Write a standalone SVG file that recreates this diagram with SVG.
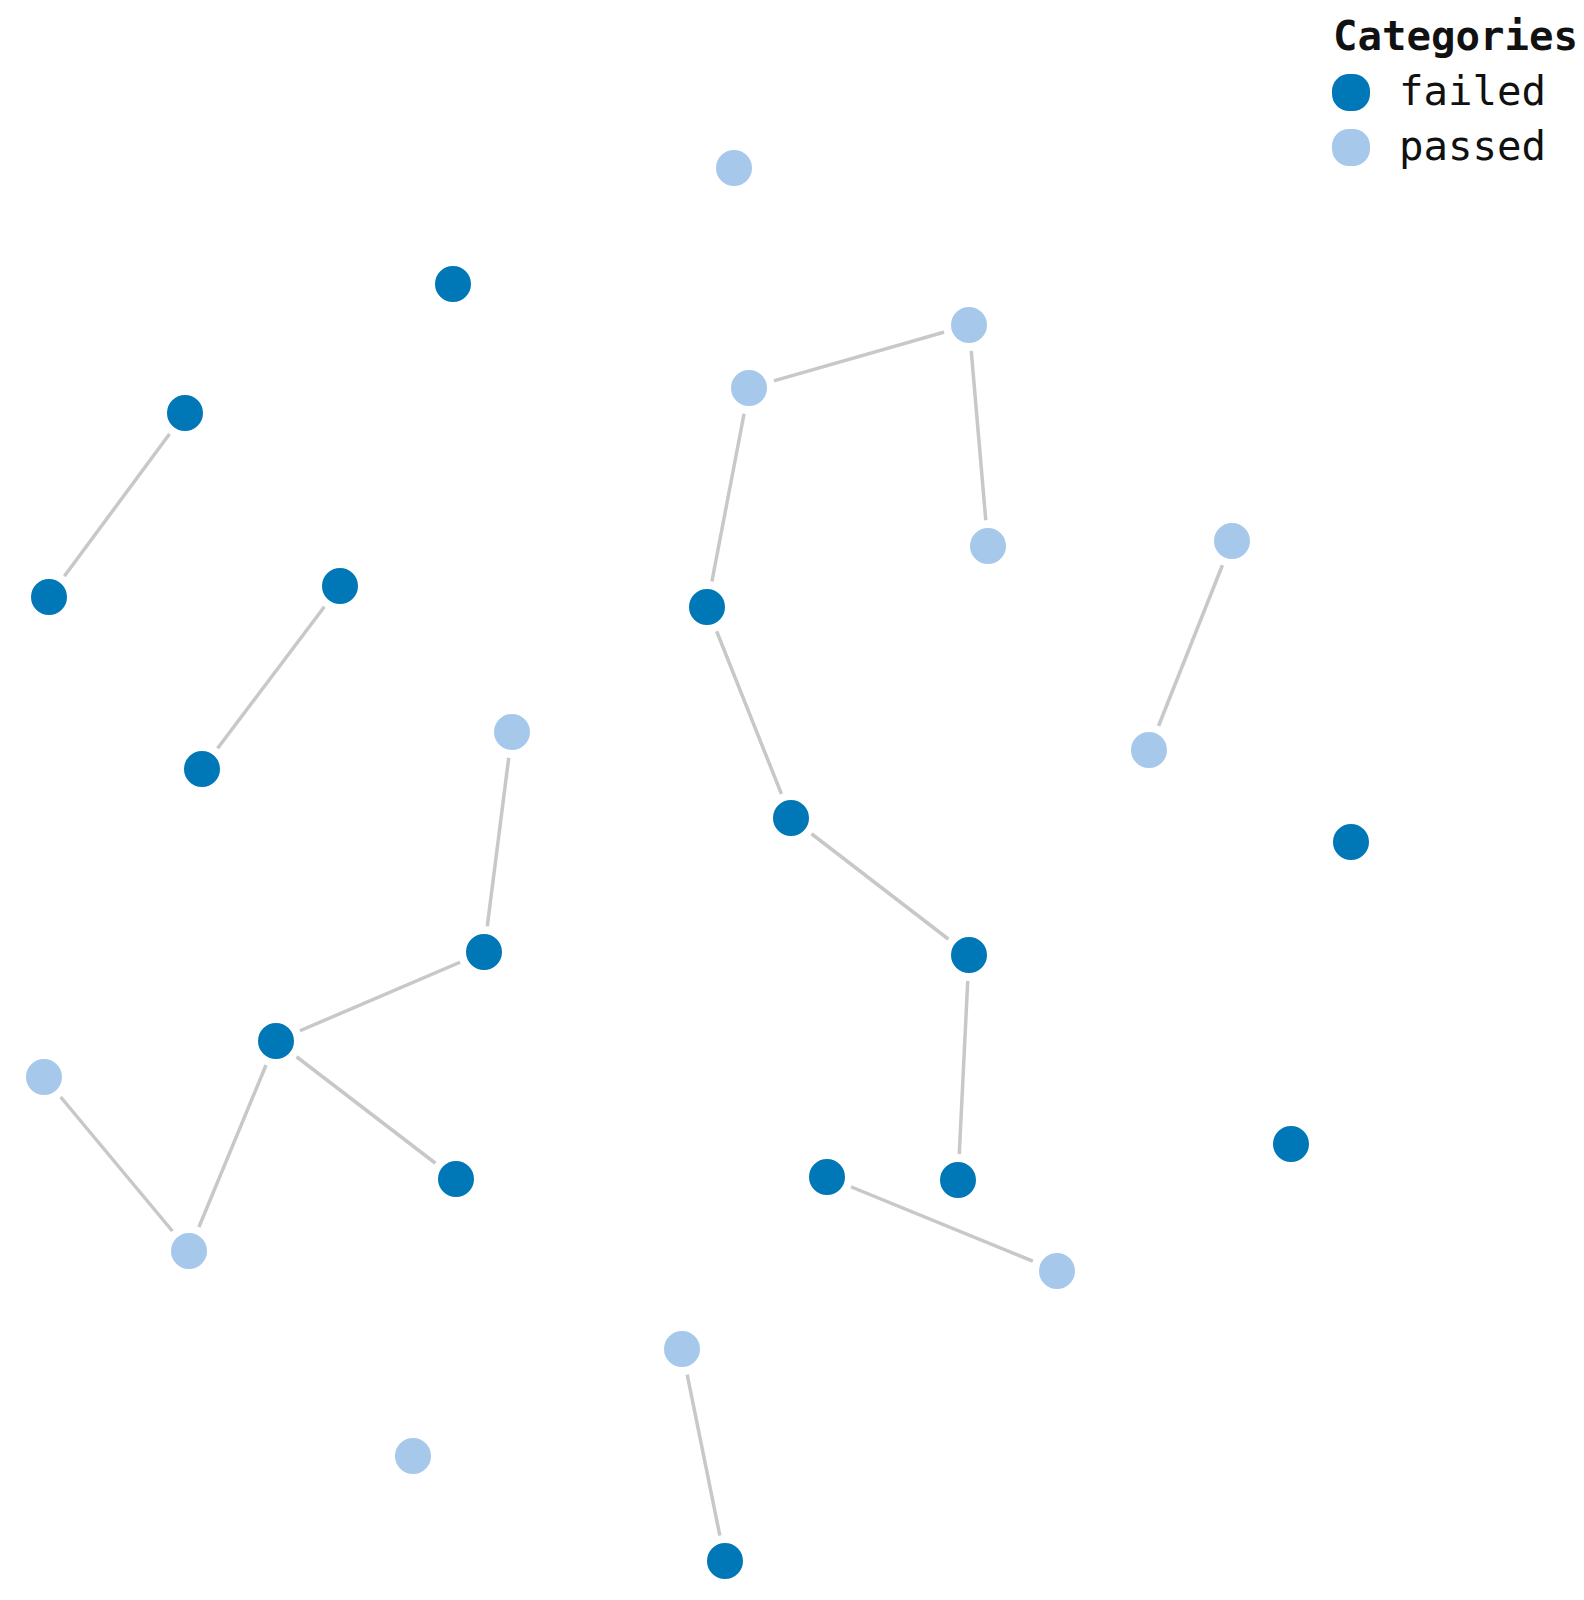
<svg xmlns="http://www.w3.org/2000/svg" width="1584" height="1600" viewBox="0 0 1584 1600">
<style>
.link{stroke:#c8c8c8;stroke-width:3.5;fill:none}
.node{stroke:#fff;stroke-width:8}
.failed{fill:#0077b6}
.passed{fill:#a6c8ea}
.lt{font-family:"DejaVu Sans Mono","Liberation Mono",monospace;font-size:40px;fill:#111}
</style>
<rect width="1584" height="1600" fill="#fff"/>
<g id="links">
<line class="link" x1="749" y1="388" x2="969" y2="325"/>
<line class="link" x1="749" y1="388" x2="707" y2="607"/>
<line class="link" x1="969" y1="325" x2="988" y2="546"/>
<line class="link" x1="185" y1="413" x2="49" y2="597"/>
<line class="link" x1="340" y1="586" x2="202" y2="769"/>
<line class="link" x1="1232" y1="541" x2="1149" y2="750"/>
<line class="link" x1="707" y1="607" x2="791" y2="818"/>
<line class="link" x1="791" y1="818" x2="969" y2="955"/>
<line class="link" x1="969" y1="955" x2="958" y2="1180"/>
<line class="link" x1="512" y1="732" x2="484" y2="952"/>
<line class="link" x1="484" y1="952" x2="276" y2="1041"/>
<line class="link" x1="276" y1="1041" x2="456" y2="1179"/>
<line class="link" x1="276" y1="1041" x2="189" y2="1251"/>
<line class="link" x1="44" y1="1077" x2="189" y2="1251"/>
<line class="link" x1="827" y1="1177" x2="1057" y2="1271"/>
<line class="link" x1="682" y1="1349" x2="725" y2="1561"/>
</g>
<g id="nodes">
<g id="n1"><circle class="node failed" cx="453" cy="284" r="22"/></g>
<g id="n2"><circle class="node failed" cx="185" cy="413" r="22"/></g>
<g id="n3"><circle class="node failed" cx="49" cy="597" r="22"/></g>
<g id="n4"><circle class="node failed" cx="340" cy="586" r="22"/></g>
<g id="n5"><circle class="node failed" cx="202" cy="769" r="22"/></g>
<g id="n6"><circle class="node failed" cx="707" cy="607" r="22"/></g>
<g id="n7"><circle class="node failed" cx="791" cy="818" r="22"/></g>
<g id="n8"><circle class="node failed" cx="969" cy="955" r="22"/></g>
<g id="n9"><circle class="node failed" cx="484" cy="952" r="22"/></g>
<g id="n10"><circle class="node failed" cx="276" cy="1041" r="22"/></g>
<g id="n11"><circle class="node failed" cx="456" cy="1179" r="22"/></g>
<g id="n12"><circle class="node failed" cx="827" cy="1177" r="22"/></g>
<g id="n13"><circle class="node failed" cx="958" cy="1180" r="22"/></g>
<g id="n14"><circle class="node failed" cx="1351" cy="842" r="22"/></g>
<g id="n15"><circle class="node failed" cx="1291" cy="1144" r="22"/></g>
<g id="n16"><circle class="node failed" cx="725" cy="1561" r="22"/></g>
<g id="p1"><circle class="node passed" cx="734" cy="168" r="22"/></g>
<g id="p2"><circle class="node passed" cx="969" cy="325" r="22"/></g>
<g id="p3"><circle class="node passed" cx="749" cy="388" r="22"/></g>
<g id="p4"><circle class="node passed" cx="988" cy="546" r="22"/></g>
<g id="p5"><circle class="node passed" cx="1232" cy="541" r="22"/></g>
<g id="p6"><circle class="node passed" cx="1149" cy="750" r="22"/></g>
<g id="p7"><circle class="node passed" cx="512" cy="732" r="22"/></g>
<g id="p8"><circle class="node passed" cx="44" cy="1077" r="22"/></g>
<g id="p9"><circle class="node passed" cx="189" cy="1251" r="22"/></g>
<g id="p10"><circle class="node passed" cx="1057" cy="1271" r="22"/></g>
<g id="p11"><circle class="node passed" cx="682" cy="1349" r="22"/></g>
<g id="p12"><circle class="node passed" cx="413" cy="1456" r="22"/></g>
</g>
<g id="legend">
<text class="lt" x="1333" y="50" font-weight="bold" textLength="245" lengthAdjust="spacingAndGlyphs">Categories</text>
<rect class="failed" x="1332" y="74" width="38" height="37" rx="17"/>
<text class="lt" x="1399" y="105" textLength="147" lengthAdjust="spacingAndGlyphs">failed</text>
<rect class="passed" x="1332" y="129" width="38" height="37" rx="17"/>
<text class="lt" x="1399" y="160" textLength="147" lengthAdjust="spacingAndGlyphs">passed</text>
</g>
</svg>
